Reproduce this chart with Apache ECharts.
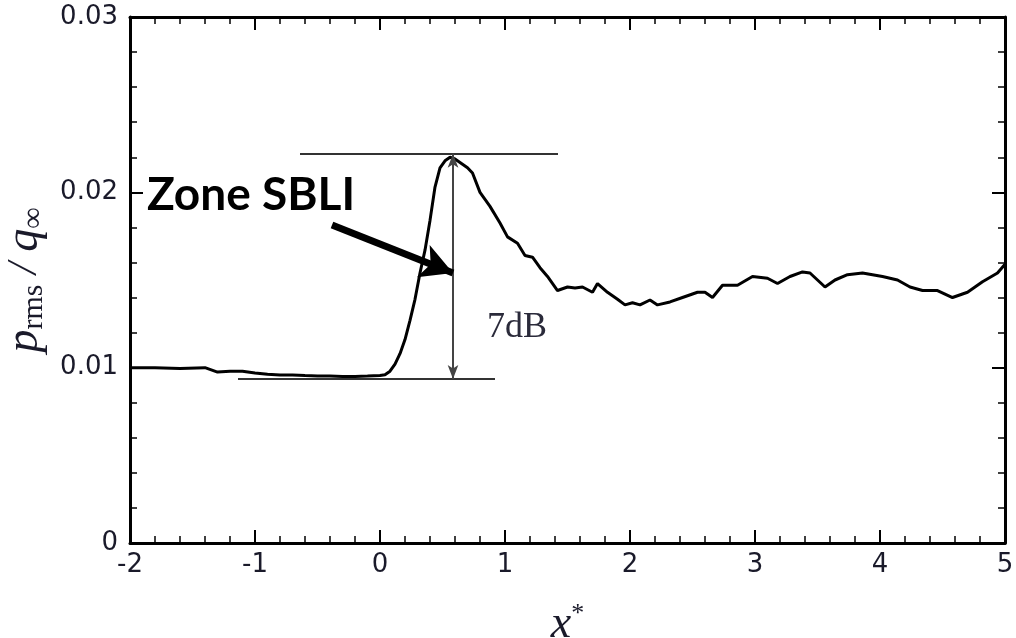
<!DOCTYPE html>
<html>
<head>
<meta charset="utf-8">
<script src="https://cdn.jsdelivr.net/npm/echarts@6/dist/echarts.min.js"></script>
<style>html,body{margin:0;padding:0;background:#fff}#c{width:1016px;height:638px}</style>
</head>
<body>
<div id="c"></div>
<script>
// x* positions and p_rms/q_inf values
const xStar = [-2.0,-1.8,-1.6,-1.4,-1.3,-1.2,-1.1,-1.0,-0.9,-0.8,-0.7,-0.6,-0.5,-0.4,-0.3,-0.2,-0.1,0.0,0.04,0.08,0.12,0.16,0.2,0.24,0.28,0.32,0.36,0.40,0.44,0.48,0.52,0.56,0.60,0.64,0.70,0.74,0.80,0.88,0.96,1.02,1.10,1.16,1.22,1.28,1.34,1.42,1.50,1.56,1.62,1.70,1.74,1.82,1.90,1.96,2.02,2.08,2.16,2.22,2.32,2.42,2.54,2.60,2.66,2.74,2.86,2.98,3.10,3.18,3.28,3.38,3.44,3.56,3.64,3.74,3.86,4.02,4.14,4.24,4.34,4.46,4.58,4.70,4.82,4.94,5.0];
const pRms = [0.0100,0.0100,0.00995,0.0100,0.00975,0.0098,0.0098,0.0097,0.00962,0.00958,0.00958,0.00955,0.00953,0.00952,0.0095,0.0095,0.00952,0.00955,0.0096,0.0098,0.0102,0.0108,0.0116,0.0127,0.0139,0.0154,0.0167,0.0184,0.0203,0.0214,0.0218,0.0220,0.0219,0.0217,0.0214,0.0211,0.0200,0.0192,0.01825,0.01746,0.0171,0.0164,0.0163,0.0157,0.0152,0.0144,0.0146,0.01455,0.0146,0.0143,0.0148,0.0143,0.0139,0.01358,0.0137,0.01358,0.01386,0.01358,0.01375,0.0140,0.0143,0.0143,0.0140,0.0147,0.0147,0.0152,0.0151,0.0148,0.0152,0.01546,0.0154,0.0146,0.0150,0.0153,0.0154,0.0152,0.0150,0.0146,0.0144,0.0144,0.0140,0.0143,0.0149,0.0154,0.0159];
const yTicks = ['0','0.01','0.02','0.03'];
const xTicks = ['-2','-1','0','1','2','3','4','5'];
// annotation levels
const peakLevel = 0.0222, baseLevel = 0.00936, arrowX = 0.584;

const chart = echarts.init(document.getElementById('c'), null, {renderer:'canvas'});
const axisLine = {show:true, onZero:false, lineStyle:{color:'#000', width:3}};
const axisTick = {show:true, inside:true, length:13, lineStyle:{color:'#000', width:2}};
const minorTick = {show:true, splitNumber:5, length:7, lineStyle:{color:'#000', width:1.5}};
const labFont = {fontFamily:'DejaVu Sans', fontSize:26, color:'#1a1a2a'};

const data = xStar.map((x,i)=>[x,pRms[i]]);

chart.setOption({
  animation:false,
  grid:{left:130, right:11, top:17, bottom:95, containLabel:false, outerBoundsMode:'none'},
  xAxis:[{
    type:'value', min:-2, max:5, interval:1, position:'bottom',
    axisLine, axisTick, minorTick, splitLine:{show:false},
    axisLabel:Object.assign({margin:9, formatter:(v)=>xTicks[Math.round(v)+2]}, labFont),
    name:'{it|x}{sup|*}', nameLocation:'middle', nameGap:58,
    nameTextStyle:{rich:{
      it:{fontFamily:'Liberation Serif', fontStyle:'italic', fontSize:46, color:'#1a1a2a'},
      sup:{fontFamily:'Liberation Serif', fontSize:26, color:'#1a1a2a', verticalAlign:'top', padding:[0,0,22,0]}
    }}
  },{
    type:'value', min:-2, max:5, interval:1, position:'top',
    axisLine, axisTick, minorTick, splitLine:{show:false}, axisLabel:{show:false}
  }],
  yAxis:[{
    type:'value', min:0, max:0.03, interval:0.01, position:'left',
    axisLine, axisTick, minorTick, splitLine:{show:false},
    axisLabel:Object.assign({margin:12, formatter:(v)=>yTicks[Math.round(v*100)]}, labFont),
    name:'{it|p}{sub|rms}{n| / }{it|q}{sub|∞}', nameLocation:'middle', nameRotate:90, nameGap:80,
    nameTextStyle:{padding:[0,0,0,0], rich:{
      it:{fontFamily:'Liberation Serif', fontStyle:'italic', fontSize:46, color:'#1a1a2a'},
      n:{fontFamily:'Liberation Serif', fontStyle:'italic', fontSize:42, color:'#1a1a2a'},
      sub:{fontFamily:'Liberation Serif', fontSize:30, color:'#1a1a2a', padding:[18,0,0,0]}
    }}
  },{
    type:'value', min:0, max:0.03, interval:0.01, position:'right',
    axisLine, axisTick, minorTick, splitLine:{show:false}, axisLabel:{show:false}
  }],
  series:[{
    type:'line', data, showSymbol:false, smooth:false,
    lineStyle:{color:'#000', width:3},
    markLine:{
      silent:true, symbol:['none','none'], label:{show:false},
      data:[
        [{coord:[-0.64,peakLevel], lineStyle:{color:'#333', width:2, type:'solid'}},{coord:[1.424,peakLevel]}],
        [{coord:[-1.136,baseLevel], lineStyle:{color:'#333', width:2, type:'solid'}},{coord:[0.92,baseLevel]}],
        [{coord:[arrowX,peakLevel], symbol:'arrow', symbolSize:[8,14], lineStyle:{color:'#444', width:2, type:'solid'}},{coord:[arrowX,baseLevel], symbol:'arrow', symbolSize:[8,14]}],
        [{coord:[-0.384,0.01814], symbol:'none', lineStyle:{color:'#000', width:7, type:'solid'}},{coord:[0.584,0.0154], symbol:'arrow', symbolSize:[26,32]}]
      ]
    }
  }],
  graphic:[
    {type:'text', left:147, top:172, style:{text:'Zone SBLI', fontFamily:'Lato', fontWeight:'bold', fontSize:46, fill:'#000'}},
    {type:'text', left:487, top:310, style:{text:'7dB', fontFamily:'Liberation Serif', fontSize:36, fill:'#2a2a3a'}}
  ]
});
</script>
</body>
</html>
